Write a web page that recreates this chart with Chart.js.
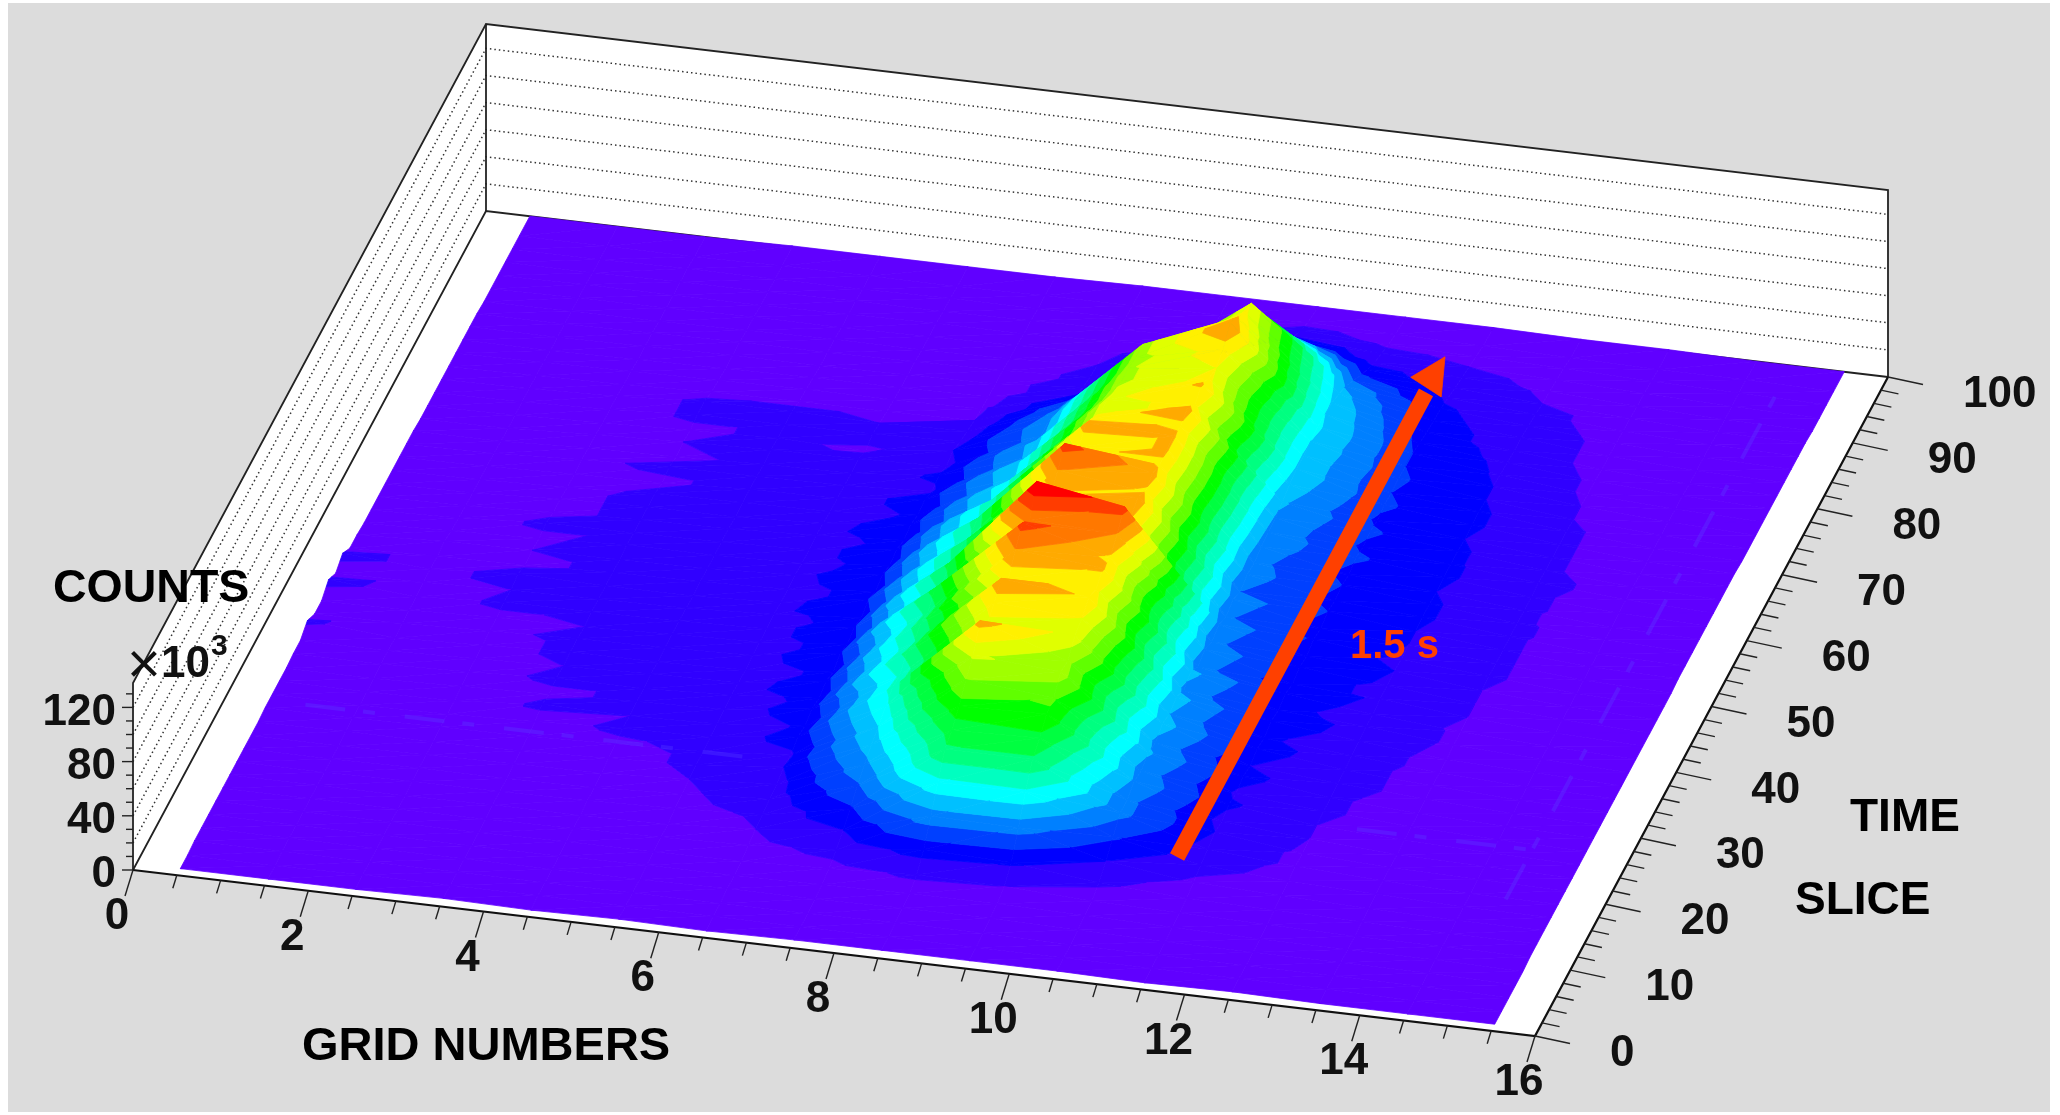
<!DOCTYPE html>
<html>
<head>
<meta charset="utf-8">
<title>Counts per grid and time slice</title>
<script src="https://cdn.jsdelivr.net/npm/chart.js@4/dist/chart.umd.min.js"></script>
<style>
  html, body { margin: 0; padding: 0; background: #fff; }
  #wrap { width: 2060px; height: 1115px; }
</style>
</head>
<body>
<div id="wrap"><canvas id="mychart" width="2060" height="1115"></canvas></div>
<script>
// grid bins (across) and time slices (along)
const grids = [0.5,1.5,2.5,3.5,4.5,5.5,6.5,7.5,8.5,9.5,10.5,11.5,12.5,13.5,14.5,15.5];
const slices = [1,3,5,7,9,11,13,15,17,19,21,23,25,27,29,31,33,35,37,39,41,43,45,47,49,51,53,55,57,59,61,63,65,67,69,71,73,75,77,79,81,83,85,87,89,91,93,95,97,100];

// counts in thousands, one row per time slice
const counts = [
  [0,0,0,1,0,1,0,1,1,1,1,0,1,0,0,0],
  [0,0,1,1,1,1,1,1,1,1,1,1,1,1,0,0],
  [1,1,1,1,1,1,1,1,2,2,1,1,1,1,1,0],
  [1,1,1,1,1,1,2,2,3,3,2,1,1,1,1,0],
  [1,1,1,1,1,2,2,3,4,4,3,2,1,1,1,0],
  [1,1,1,1,2,2,3,5,8,7,4,3,2,1,1,1],
  [1,1,1,1,2,3,5,9,17,15,8,4,3,2,1,1],
  [1,1,1,2,2,3,7,14,32,31,14,6,4,2,1,1],
  [1,1,2,2,3,5,8,20,47,48,22,9,5,3,1,1],
  [1,1,2,2,3,6,10,27,62,62,30,11,6,3,1,1],
  [1,1,2,3,4,7,11,33,66,68,30,14,6,3,2,1],
  [1,2,2,3,5,8,14,38,74,76,34,12,7,3,2,1],
  [2,2,3,4,6,8,13,42,84,78,32,15,7,4,2,1],
  [2,2,3,5,8,9,17,47,92,88,36,13,8,4,2,1],
  [2,2,3,8,7,9,15,51,108,86,33,16,8,4,2,1],
  [2,2,4,6,8,10,18,50,96,95,38,14,9,5,2,1],
  [3,3,5,8,8,11,16,58,102,98,35,17,9,5,2,1],
  [3,3,5,7,9,10,19,55,110,104,38,15,10,5,2,1],
  [8,3,5,8,8,10,16,60,100,100,33,18,11,5,3,1],
  [3,4,6,8,9,11,20,58,112,106,37,16,12,6,3,1],
  [3,4,6,7,9,11,17,66,122,104,31,19,11,6,3,1],
  [9,4,8,8,9,11,20,58,114,112,34,16,13,7,3,1],
  [4,5,7,8,9,12,17,65,133,122,30,19,13,7,3,1],
  [9,5,9,8,8,11,21,58,100,106,33,17,14,7,3,1],
  [3,5,6,8,9,11,17,61,104,110,29,20,13,8,3,1],
  [3,6,7,8,9,12,20,55,112,104,32,18,14,8,3,1],
  [2,4,6,9,9,11,17,59,122,108,28,21,14,8,3,2],
  [2,4,8,8,9,11,19,51,104,104,31,19,15,8,3,2],
  [2,3,6,8,9,12,16,53,100,106,30,21,15,8,4,2],
  [2,3,6,8,8,11,18,44,108,106,32,19,14,8,3,2],
  [2,3,5,8,9,10,15,46,102,104,33,22,15,8,4,2],
  [2,3,5,6,9,10,17,40,96,108,34,20,15,9,4,2],
  [2,3,6,8,9,10,13,42,96,100,36,22,15,8,4,2],
  [2,2,5,6,8,9,15,36,92,106,39,20,14,8,3,2],
  [1,2,5,7,9,10,12,37,90,100,41,22,15,8,3,2],
  [1,2,4,6,8,6,14,32,90,98,41,21,15,8,3,1],
  [1,2,4,8,8,9,11,33,88,102,42,22,14,7,3,1],
  [1,2,4,8,8,7,9,30,88,112,43,21,14,7,3,1],
  [1,2,3,5,6,6,7,26,72,106,42,21,13,6,3,1],
  [1,2,3,4,5,5,6,20,58,100,41,19,12,6,3,1],
  [1,1,2,3,4,4,5,14,44,97,38,17,11,5,2,1],
  [1,1,2,3,3,4,5,10,32,82,34,16,11,5,2,1],
  [1,1,2,3,3,4,5,8,22,65,28,15,10,5,2,1],
  [0,1,1,2,3,3,4,7,15,50,22,13,9,4,2,1],
  [0,1,1,2,2,3,4,6,11,34,17,11,7,4,1,1],
  [0,1,1,1,2,3,3,5,8,22,12,9,6,3,1,0],
  [0,0,1,1,2,2,3,4,6,14,9,7,5,3,1,0],
  [0,0,1,1,1,2,2,3,4,9,6,5,4,2,1,0],
  [0,0,0,1,1,1,2,2,3,5,4,3,2,1,1,0],
  [0,0,0,1,1,1,1,2,2,2,2,2,1,1,0,0]
];

const gridTicks = [0,2,4,6,8,10,12,14,16];
const sliceTicks = [0,10,20,30,40,50,60,70,80,90,100];
const countTicks = [0,40,80,120];
const wallLines = [20,40,60,80,100,120];

// colour bands, one every bandStep thousand counts
const bandStep = 7;
const bandColors = ['#6000ff','#3000ff','#0000ff','#0040ff','#0080ff','#00c0ff','#00ffff','#00ffc0','#00ff80','#00ff40','#00ff00','#60ff00','#a0ff00','#e0ff00','#fff000','#ffaa00','#ff7800','#ff3c00','#ff0000'];

// faint scratches on the floor, as grid/slice pairs
const streaks = [
  [[0.9,26.5],[5.9,26.5]],
  [[12.9,26.5],[15,26.5]],
  [[14.9,19],[14.9,96]]
];

const arrowGrid = 11.13;
const arrowFrom = 19.5;
const arrowTo = 90;
const arrowHead = [[10.88,91.9],[11.13,95.4],[11.32,89.6]];

// oblique view of the box
function project(g, t, c) {
  return {
    x: 133 + 1402 * g / 16 + 353 * t / 100,
    y: 870 + 166 * g / 16 - 659 * t / 100 - 1.355 * c
  };
}

// keeps the part of a polygon where value is on the wanted side of limit
function clipBand(poly, limit, keepAbove) {
  let out = [];
  for (let i = 0; i < poly.length; i++) {
    let a = poly[i], b = poly[(i + 1) % poly.length];
    let aIn = keepAbove ? a.c >= limit : a.c <= limit;
    let bIn = keepAbove ? b.c >= limit : b.c <= limit;
    if (aIn) out.push(a);
    if (aIn !== bIn) {
      let f = (limit - a.c) / (b.c - a.c);
      out.push({ g: a.g + (b.g - a.g) * f, t: a.t + (b.t - a.t) * f, c: limit });
    }
  }
  return out;
}

function shape(points, color) {
  return {
    data: points, showLine: true, fill: 'shape', tension: 0,
    backgroundColor: color, borderColor: color, borderWidth: 0.8,
    pointRadius: 0
  };
}

function path(points, color, width, dash) {
  return {
    data: points, showLine: true, fill: false, tension: 0,
    borderColor: color, borderWidth: width, borderDash: dash || [],
    pointRadius: 0
  };
}

function closed(list) {
  let pts = list.map(p => project(p[0], p[1], p[2] || 0));
  pts.push(pts[0]);
  return pts;
}

function addTriangle(out, tri) {
  let vals = tri.map(p => p.c);
  let low = Math.min(Math.floor(Math.min(...vals) / bandStep), bandColors.length - 1);
  let high = Math.min(Math.floor(Math.max(...vals) / bandStep), bandColors.length - 1);
  for (let k = low; k <= high; k++) {
    let poly = tri;
    if (k > low) poly = clipBand(poly, k * bandStep, true);
    if (k < high) poly = clipBand(poly, (k + 1) * bandStep, false);
    if (poly.length < 3) continue;
    out.push(shape(closed(poly.map(p => [p.g, p.t, p.c])), bandColors[k]));
  }
}

let datasets = [];

// walls and floor of the box
const zTop = 138;
datasets.push(shape(closed([[0,0,0],[0,100,0],[0,100,zTop],[0,0,zTop]]), '#ffffff'));
datasets.push(shape(closed([[0,100,0],[16,100,0],[16,100,zTop],[0,100,zTop]]), '#ffffff'));
datasets.push(shape(closed([[0,0,0],[16,0,0],[16,100,0],[0,100,0]]), '#ffffff'));

wallLines.forEach(z => {
  let pts = [project(0,0,z), project(0,100,z), project(16,100,z)];
  datasets.push(path(pts, '#333333', 1.5, [1.5,3]));
});

datasets.push(path([project(0,0,0), project(0,0,zTop), project(0,100,zTop), project(16,100,zTop), project(16,100,0)], '#222222', 1.8));
datasets.push(path([project(0,100,0), project(0,100,zTop)], '#222222', 1.8));
datasets.push(path([project(0,0,0), project(0,100,0), project(16,100,0)], '#222222', 1.8));
datasets.push(path([project(0,0,0), project(16,0,0), project(16,100,0)], '#111111', 2.2));

// surface, painted from the back to the front
for (let r = slices.length - 2; r >= 0; r--) {
  for (let i = 0; i < grids.length - 1; i++) {
    let a = { g: grids[i], t: slices[r], c: counts[r][i] };
    let b = { g: grids[i + 1], t: slices[r], c: counts[r][i + 1] };
    let c = { g: grids[i + 1], t: slices[r + 1], c: counts[r + 1][i + 1] };
    let d = { g: grids[i], t: slices[r + 1], c: counts[r + 1][i] };
    addTriangle(datasets, [a, c, d]);
    addTriangle(datasets, [a, b, c]);
  }
}

streaks.forEach(s => {
  datasets.push(path(s.map(p => project(p[0], p[1], 0)), 'rgba(90,70,255,0.3)', 4, [40,18,12,30]));
});

// ticks
for (let g = 0; g <= 16; g += 0.5) {
  let major = g % 2 === 0;
  let p = project(g, 0, 0);
  let len = major ? 1 : 0.5;
  datasets.push(path([p, { x: p.x - 8 * len, y: p.y + 26 * len }], '#222222', 1.4));
}
for (let t = 0; t <= 100; t += 2) {
  let major = t % 10 === 0;
  let p = project(16, t, 0);
  let len = major ? 1 : 0.5;
  datasets.push(path([p, { x: p.x + 35 * len, y: p.y + 7.5 * len }], '#222222', 1.4));
}
for (let z = 0; z <= 130; z += 10) {
  let major = z % 40 === 0;
  let p = project(0, 0, z);
  datasets.push(path([p, { x: p.x - (major ? 11 : 7), y: p.y }], '#222222', 1.4));
}

// arrow along the slice axis
datasets.push(path([project(arrowGrid, arrowFrom, 0), project(arrowGrid, arrowTo, 0)], '#ff4000', 16));
datasets.push(shape(closed(arrowHead), '#ff4000'));

// first dataset ends up on top, so flip the painting order
datasets.reverse();

const labelsPlugin = {
  id: 'labelsPlugin',
  beforeDraw(chart) {
    let ctx = chart.ctx;
    ctx.save();
    ctx.fillStyle = '#dcdcdc';
    ctx.fillRect(8, 3, 2042, 1109);
    ctx.restore();
  },
  afterDraw(chart) {
    let ctx = chart.ctx;
    let sx = chart.scales.x, sy = chart.scales.y;
    let put = (text, x, y, font, color, align, base) => {
      ctx.font = font;
      ctx.fillStyle = color;
      ctx.textAlign = align;
      ctx.textBaseline = base;
      ctx.fillText(text, sx.getPixelForValue(x), sy.getPixelForValue(y));
    };
    let tickFont = 'bold 44px "Liberation Sans"';
    let nameFont = 'bold 46px "Liberation Sans"';
    ctx.save();
    gridTicks.forEach(g => {
      let p = project(g, 0, 0);
      put(String(g), p.x - 16, p.y + 47, tickFont, '#111', 'center', 'middle');
    });
    sliceTicks.forEach(t => {
      let p = project(16, t, 0);
      put(String(t), p.x + 75, p.y + 18, tickFont, '#111', 'left', 'middle');
    });
    countTicks.forEach(z => {
      let p = project(0, 0, z);
      put(String(z), 116, p.y + 5, tickFont, '#111', 'right', 'middle');
    });
    put('COUNTS', 53, 602, 'bold 46.5px "Liberation Sans"', '#000', 'left', 'alphabetic');
    put('GRID NUMBERS', 302, 1060, 'bold 47px "Liberation Sans"', '#000', 'left', 'alphabetic');
    put('TIME', 1850, 831, nameFont, '#000', 'left', 'alphabetic');
    put('SLICE', 1795, 914, nameFont, '#000', 'left', 'alphabetic');
    put('1.5 s', 1350, 658, 'bold 40px "Liberation Sans"', '#ff4000', 'left', 'alphabetic');
    put('\u00d7', 127, 683, '58px "Liberation Sans"', '#111', 'left', 'alphabetic');
    put('10', 161, 677, 'bold 44px "Liberation Sans"', '#111', 'left', 'alphabetic');
    put('3', 211, 655, 'bold 30px "Liberation Sans"', '#111', 'left', 'alphabetic');
    ctx.restore();
  }
};

new Chart(document.getElementById('mychart'), {
  type: 'scatter',
  data: { datasets: datasets },
  options: {
    responsive: false,
    animation: false,
    events: [],
    layout: { padding: 0 },
    clip: false,
    scales: {
      x: { type: 'linear', min: 0, max: 2060, display: false },
      y: { type: 'linear', min: 0, max: 1115, reverse: true, display: false }
    },
    plugins: { legend: { display: false }, tooltip: { enabled: false }, title: { display: false } }
  },
  plugins: [labelsPlugin]
});
</script>
</body>
</html>
